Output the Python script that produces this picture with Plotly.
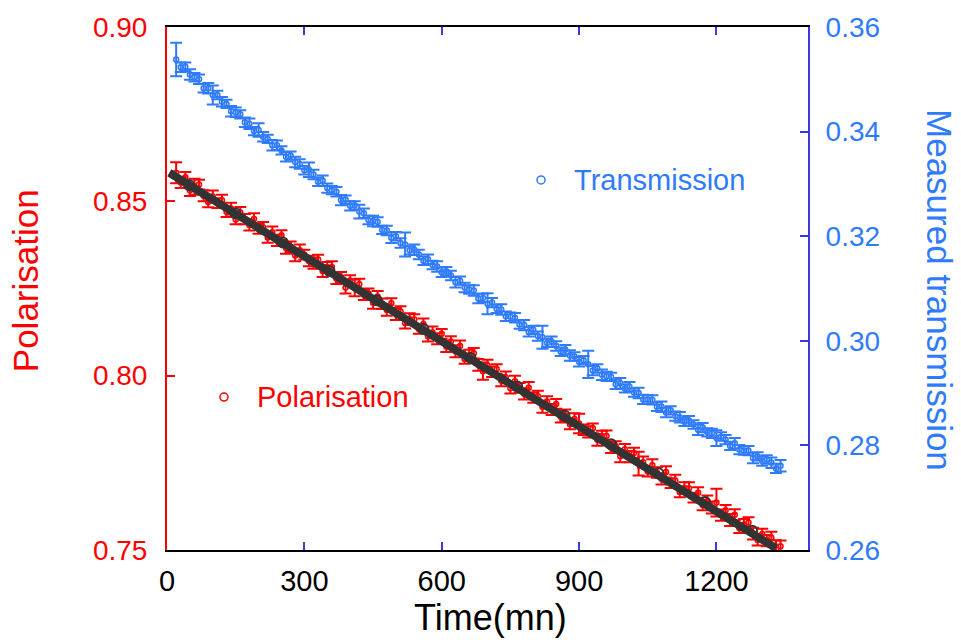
import plotly.graph_objects as go

# Measurement times (minutes), one reading every 10 min
time_mn = list(range(20, 1341, 10))

# Polarisation readings and their uncertainties
polarisation = [
    0.8582, 0.8554, 0.8569, 0.8532, 0.8542, 0.8548, 0.8516, 0.8498, 0.8514, 0.8495,
    0.8503, 0.8470, 0.8479, 0.8448, 0.8468, 0.8449, 0.8432, 0.8449, 0.8421, 0.8425,
    0.8396, 0.8411, 0.8388, 0.8403, 0.8366, 0.8370, 0.8345, 0.8360, 0.8347, 0.8329,
    0.8323, 0.8333, 0.8300, 0.8311, 0.8312, 0.8279, 0.8283, 0.8253, 0.8273, 0.8252,
    0.8262, 0.8232, 0.8236, 0.8209, 0.8227, 0.8206, 0.8188, 0.8208, 0.8177, 0.8184,
    0.8151, 0.8162, 0.8161, 0.8134, 0.8148, 0.8113, 0.8124, 0.8106, 0.8120, 0.8084,
    0.8098, 0.8070, 0.8085, 0.8048, 0.8058, 0.8064, 0.8031, 0.8013, 0.8030, 0.8011,
    0.8019, 0.7986, 0.7995, 0.7964, 0.7984, 0.7965, 0.7948, 0.7965, 0.7937, 0.7941,
    0.7911, 0.7926, 0.7903, 0.7919, 0.7882, 0.7886, 0.7861, 0.7876, 0.7863, 0.7845,
    0.7839, 0.7849, 0.7816, 0.7827, 0.7827, 0.7794, 0.7798, 0.7769, 0.7789, 0.7768,
    0.7778, 0.7748, 0.7752, 0.7725, 0.7743, 0.7722, 0.7704, 0.7724, 0.7692, 0.7699,
    0.7666, 0.7678, 0.7677, 0.7650, 0.7664, 0.7629, 0.7640, 0.7622, 0.7636, 0.7600,
    0.7614, 0.7586, 0.7601, 0.7563, 0.7573, 0.7579, 0.7547, 0.7529, 0.7546, 0.7527,
    0.7535, 0.7502, 0.7511,
]
polarisation_err = [
    0.0030, 0.0016, 0.0015, 0.0017, 0.0023, 0.0014, 0.0016, 0.0015, 0.0017, 0.0014,
    0.0016, 0.0015, 0.0017, 0.0014, 0.0016, 0.0015, 0.0016, 0.0017, 0.0014, 0.0016,
    0.0015, 0.0017, 0.0016, 0.0014, 0.0016, 0.0015, 0.0017, 0.0016, 0.0014, 0.0015,
    0.0016, 0.0014, 0.0017, 0.0015, 0.0016, 0.0016, 0.0014, 0.0017, 0.0015, 0.0024,
    0.0016, 0.0015, 0.0014, 0.0017, 0.0016, 0.0015, 0.0016, 0.0014, 0.0017, 0.0015,
    0.0016, 0.0017, 0.0015, 0.0014, 0.0016, 0.0015, 0.0017, 0.0016, 0.0014, 0.0016,
    0.0015, 0.0017, 0.0016, 0.0014, 0.0016, 0.0015, 0.0017, 0.0025, 0.0016, 0.0015,
    0.0014, 0.0016, 0.0017, 0.0015, 0.0016, 0.0014, 0.0016, 0.0017, 0.0015, 0.0016,
    0.0017, 0.0015, 0.0016, 0.0014, 0.0016, 0.0017, 0.0015, 0.0016, 0.0028, 0.0015,
    0.0016, 0.0014, 0.0017, 0.0015, 0.0016, 0.0016, 0.0014, 0.0017, 0.0015, 0.0016,
    0.0015, 0.0034, 0.0016, 0.0014, 0.0017, 0.0015, 0.0016, 0.0016, 0.0014, 0.0017,
    0.0015, 0.0016, 0.0017, 0.0014, 0.0016, 0.0015, 0.0016, 0.0017, 0.0040, 0.0016,
    0.0015, 0.0017, 0.0016, 0.0014, 0.0016, 0.0015, 0.0017, 0.0016, 0.0015, 0.0016,
    0.0017, 0.0026, 0.0016,
]

# Measured transmission readings and their uncertainties
transmission = [
    0.3538, 0.3523, 0.3524, 0.3509, 0.3504, 0.3500, 0.3483, 0.3483, 0.3470, 0.3470,
    0.3457, 0.3453, 0.3439, 0.3437, 0.3433, 0.3418, 0.3415, 0.3401, 0.3403, 0.3390,
    0.3386, 0.3374, 0.3374, 0.3364, 0.3352, 0.3354, 0.3342, 0.3338, 0.3326, 0.3327,
    0.3318, 0.3304, 0.3306, 0.3292, 0.3288, 0.3285, 0.3269, 0.3270, 0.3258, 0.3259,
    0.3247, 0.3244, 0.3231, 0.3229, 0.3227, 0.3212, 0.3211, 0.3197, 0.3200, 0.3187,
    0.3184, 0.3173, 0.3174, 0.3165, 0.3153, 0.3156, 0.3145, 0.3142, 0.3131, 0.3133,
    0.3125, 0.3112, 0.3115, 0.3102, 0.3098, 0.3096, 0.3081, 0.3082, 0.3071, 0.3073,
    0.3061, 0.3060, 0.3047, 0.3046, 0.3044, 0.3031, 0.3030, 0.3017, 0.3021, 0.3009,
    0.3007, 0.2996, 0.2998, 0.2990, 0.2979, 0.2983, 0.2972, 0.2970, 0.2960, 0.2963,
    0.2955, 0.2943, 0.2947, 0.2935, 0.2932, 0.2931, 0.2917, 0.2919, 0.2909, 0.2912,
    0.2901, 0.2900, 0.2888, 0.2888, 0.2887, 0.2874, 0.2874, 0.2863, 0.2867, 0.2856,
    0.2854, 0.2845, 0.2847, 0.2840, 0.2830, 0.2834, 0.2825, 0.2823, 0.2814, 0.2817,
    0.2811, 0.2799, 0.2804, 0.2792, 0.2790, 0.2790, 0.2776, 0.2779, 0.2770, 0.2773,
    0.2767, 0.2756, 0.2761,
]
transmission_err = [
    0.0032, 0.0009, 0.0008, 0.0010, 0.0008, 0.0009, 0.0008, 0.0010, 0.0018, 0.0008,
    0.0009, 0.0008, 0.0010, 0.0009, 0.0008, 0.0009, 0.0010, 0.0008, 0.0013, 0.0009,
    0.0008, 0.0010, 0.0009, 0.0008, 0.0009, 0.0008, 0.0010, 0.0009, 0.0008, 0.0014,
    0.0009, 0.0008, 0.0010, 0.0009, 0.0008, 0.0009, 0.0010, 0.0008, 0.0009, 0.0008,
    0.0013, 0.0009, 0.0008, 0.0010, 0.0009, 0.0008, 0.0009, 0.0010, 0.0008, 0.0009,
    0.0023, 0.0008, 0.0010, 0.0009, 0.0008, 0.0009, 0.0008, 0.0010, 0.0009, 0.0008,
    0.0009, 0.0010, 0.0008, 0.0009, 0.0008, 0.0010, 0.0009, 0.0008, 0.0020, 0.0009,
    0.0008, 0.0010, 0.0009, 0.0008, 0.0009, 0.0008, 0.0010, 0.0009, 0.0008, 0.0009,
    0.0022, 0.0008, 0.0010, 0.0009, 0.0008, 0.0009, 0.0010, 0.0008, 0.0009, 0.0008,
    0.0026, 0.0009, 0.0008, 0.0010, 0.0009, 0.0008, 0.0009, 0.0010, 0.0008, 0.0009,
    0.0008, 0.0010, 0.0009, 0.0008, 0.0009, 0.0008, 0.0010, 0.0009, 0.0008, 0.0009,
    0.0010, 0.0008, 0.0009, 0.0008, 0.0010, 0.0009, 0.0008, 0.0009, 0.0015, 0.0008,
    0.0009, 0.0008, 0.0010, 0.0009, 0.0008, 0.0009, 0.0010, 0.0008, 0.0009, 0.0008,
    0.0010, 0.0009, 0.0011,
]

# Linear fit of the polarisation decay, with its marked sample points
fit_t = [5, 1330]
fit_p = [0.8582, 0.7505]
fit_mark_t = [48, 150, 253, 355, 458, 560, 663, 765, 868, 970, 1073, 1175, 1278]
fit_mark_p = [0.8547, 0.8465, 0.8382, 0.8300, 0.8216, 0.8134, 0.8051,
              0.7969, 0.7886, 0.7803, 0.7720, 0.7638, 0.7555]

# Axis ticks
x_ticks = [0, 300, 600, 900, 1200]
pol_ticks = [0.75, 0.80, 0.85, 0.90]
tr_ticks = [0.26, 0.28, 0.30, 0.32, 0.34, 0.36]

RED = "#ff0000"
BLUE = "#2f7bff"
AXIS_BLUE = "#3b3bdb"
FIT = "#333333"
FONT = "Liberation Sans, Arial, sans-serif"

fig = go.Figure()

fig.add_trace(go.Scatter(
    x=time_mn, y=transmission, yaxis="y2", mode="markers",
    marker=dict(symbol="circle-open", size=5, color=BLUE, line=dict(width=1.5)),
    error_y=dict(type="data", array=transmission_err, visible=True,
                 color=BLUE, thickness=2, width=6),
    name="Transmission", showlegend=False,
))

fig.add_trace(go.Scatter(
    x=time_mn, y=polarisation, mode="markers",
    marker=dict(symbol="circle-open", size=5, color=RED, line=dict(width=1.5)),
    error_y=dict(type="data", array=polarisation_err, visible=True,
                 color=RED, thickness=2, width=6),
    name="Polarisation", showlegend=False,
))

fig.add_trace(go.Scatter(
    x=fit_t, y=fit_p, mode="lines",
    line=dict(color=FIT, width=8),
    showlegend=False, hoverinfo="skip",
))

fig.add_trace(go.Scatter(
    x=fit_mark_t, y=fit_mark_p, mode="markers",
    marker=dict(symbol="circle-open", size=10, color=FIT, line=dict(width=2)),
    showlegend=False, hoverinfo="skip",
))

# Axis titles and in-plot key
annotations = [
    dict(text="Polarisation", x=-0.2215, y=0.514, xref="paper", yref="paper",
         textangle=-90, showarrow=False, font=dict(family=FONT, size=35, color=RED),
         xanchor="center", yanchor="middle"),
    dict(text="Measured transmission", x=1.206, y=0.497, xref="paper", yref="paper",
         textangle=90, showarrow=False, font=dict(family=FONT, size=35, color=BLUE),
         xanchor="center", yanchor="middle"),
    dict(text="Time(mn)", x=0.504, y=-0.13, xref="paper", yref="paper",
         showarrow=False, font=dict(family=FONT, size=36, color="black"),
         xanchor="center", yanchor="middle"),
    dict(text="Polarisation", x=0.1373, y=0.2925, xref="paper", yref="paper",
         showarrow=False, font=dict(family=FONT, size=29, color=RED),
         xanchor="left", yanchor="middle"),
    dict(text="Transmission", x=0.6318, y=0.7075, xref="paper", yref="paper",
         showarrow=False, font=dict(family=FONT, size=29, color=BLUE),
         xanchor="left", yanchor="middle"),
]

shapes = [
    dict(type="circle", xref="paper", yref="paper", xsizemode="pixel", ysizemode="pixel",
         xanchor=0.0889, yanchor=0.2925, x0=-4, x1=4, y0=-4, y1=4,
         line=dict(color=RED, width=1.5)),
    dict(type="circle", xref="paper", yref="paper", xsizemode="pixel", ysizemode="pixel",
         xanchor=0.5835, yanchor=0.7075, x0=-4, x1=4, y0=-4, y1=4,
         line=dict(color=BLUE, width=1.5)),
]

fig.update_layout(
    width=961, height=640, autosize=False,
    margin=dict(l=167, r=153, t=27, b=90),
    paper_bgcolor="white", plot_bgcolor="white",
    showlegend=False,
    annotations=annotations, shapes=shapes,
    xaxis=dict(
        range=[0, 1400], tickvals=x_ticks, ticks="inside", ticklen=8,
        tickcolor=AXIS_BLUE, tickwidth=1.5, showgrid=False, zeroline=False,
        showline=True, linecolor="black", linewidth=2, mirror="ticks",
        tickfont=dict(family=FONT, size=29, color="black"),
        ticklabelstandoff=4,
    ),
    yaxis=dict(
        range=[0.75, 0.90], tickvals=pol_ticks, tickformat=".2f",
        ticks="inside", ticklen=8, tickcolor=RED, tickwidth=1.5,
        showgrid=False, zeroline=False, showline=True, linecolor=RED, linewidth=2,
        tickfont=dict(family=FONT, size=28, color=RED), ticklabelstandoff=12,
    ),
    yaxis2=dict(
        range=[0.26, 0.36], tickvals=tr_ticks, tickformat=".2f",
        overlaying="y", side="right", anchor="x",
        ticks="inside", ticklen=8, tickcolor=AXIS_BLUE, tickwidth=1.5,
        showgrid=False, zeroline=False, showline=True, linecolor=AXIS_BLUE, linewidth=2,
        tickfont=dict(family=FONT, size=28, color=BLUE), ticklabelstandoff=10,
    ),
)

fig.write_html("out.html")
